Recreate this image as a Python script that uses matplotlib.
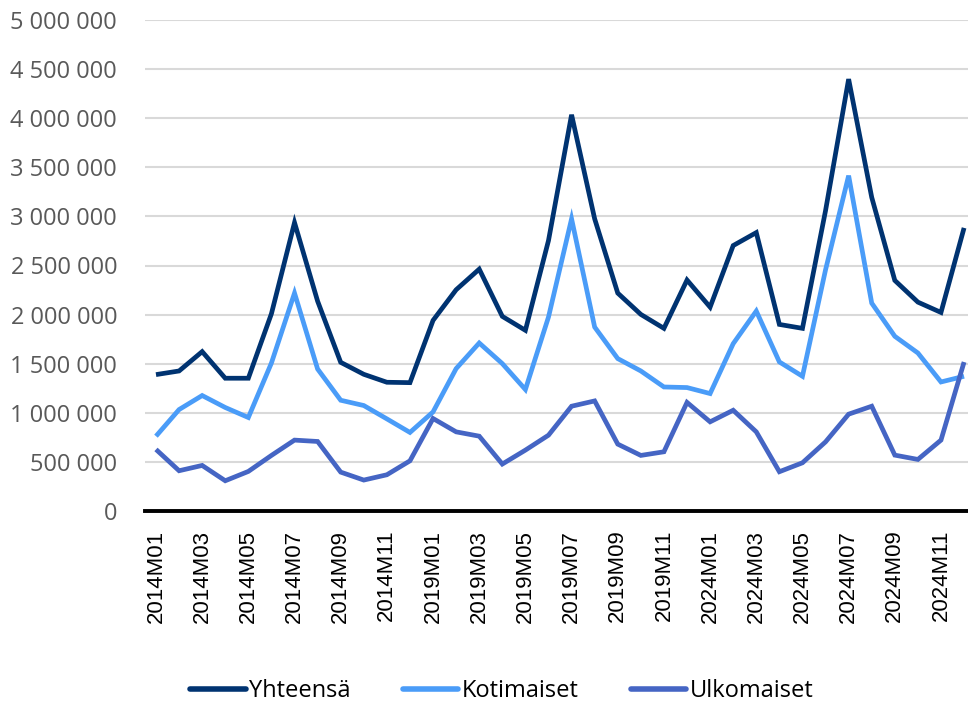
import matplotlib
matplotlib.use("Agg")
import matplotlib.pyplot as plt
from matplotlib.ticker import FuncFormatter, MultipleLocator

years = ["2014", "2019", "2024"]
months = [f"M{m:02d}" for m in range(1, 13)]
periods = [y + m for y in years for m in months]

yhteensa = [1389000, 1426000, 1623000, 1352000, 1352000, 2009000, 2937000, 2137000, 1514000, 1392000, 1311000, 1307000,
            1941000, 2253000, 2463000, 1982000, 1840000, 2754000, 4035000, 2975000, 2219000, 2002000, 1860000, 2352000,
            2076000, 2703000, 2835000, 1900000, 1860000, 3059000, 4398000, 3194000, 2348000, 2127000, 2022000, 2883000]
kotimaiset = [762000, 1033000, 1176000, 1054000, 952000, 1507000, 2219000, 1446000, 1128000, 1074000, 938000, 800000,
              1009000, 1450000, 1711000, 1501000, 1237000, 1975000, 2975000, 1873000, 1552000, 1426000, 1263000, 1257000,
              1196000, 1704000, 2036000, 1518000, 1372000, 2456000, 3415000, 2117000, 1779000, 1609000, 1314000, 1372000]
ulkomaiset = [627000, 410000, 464000, 308000, 403000, 566000, 722000, 708000, 396000, 315000, 369000, 511000,
              942000, 806000, 762000, 478000, 620000, 772000, 1067000, 1121000, 681000, 566000, 603000, 1106000,
              908000, 1026000, 806000, 400000, 491000, 704000, 986000, 1067000, 569000, 525000, 722000, 1517000]

series_names = ["Yhteensä", "Kotimaiset", "Ulkomaiset"]
colors = ["#003371", "#4a9cf8", "#4565c4"]

fig = plt.figure(figsize=(9.68, 7.07), dpi=100)
ax = fig.add_axes([145 / 968, 1 - 511 / 707, 823 / 968, 491 / 707])

x = list(range(len(periods)))
for vals, name, c in zip([yhteensa, kotimaiset, ulkomaiset], series_names, colors):
    ax.plot(x, vals, color=c, lw=3.4, label=name, solid_joinstyle="miter", solid_capstyle="butt")

ax.set_ylim(0, 5000000)
ax.set_xlim(-0.476, 35.17)
ax.yaxis.set_major_locator(MultipleLocator(500000))
ax.yaxis.set_major_formatter(FuncFormatter(lambda v, p: f"{int(v):,}".replace(",", " ")))
ax.grid(axis="y", color="#d9d9d9", lw=1.5)
ax.set_axisbelow(True)
for s in ["top", "right", "left"]:
    ax.spines[s].set_visible(False)
ax.spines["bottom"].set_color("black")
ax.spines["bottom"].set_linewidth(2.8)
ax.spines["bottom"].set_zorder(5)

ax.set_xticks(x[::2])
ax.set_xticklabels(periods[::2], rotation=90, fontfamily="Liberation Sans", fontsize=16, color="black")
ax.tick_params(axis="x", length=0, pad=13.5)
ax.tick_params(axis="y", length=0, pad=20, labelsize=17, labelcolor="#595959")
for lbl in ax.get_yticklabels():
    lbl.set_fontfamily("Open Sans")

leg = fig.legend(loc="center", bbox_to_anchor=(502 / 968, 1 - 691 / 707), ncol=3, frameon=False,
                 prop={"family": "Open Sans", "size": 17}, handlelength=2.35, handletextpad=0.15,
                 columnspacing=2.2)
for h in leg.get_lines():
    h.set_linewidth(4)
    h.set_solid_capstyle("round")

fig.savefig("out.png", dpi=100)
